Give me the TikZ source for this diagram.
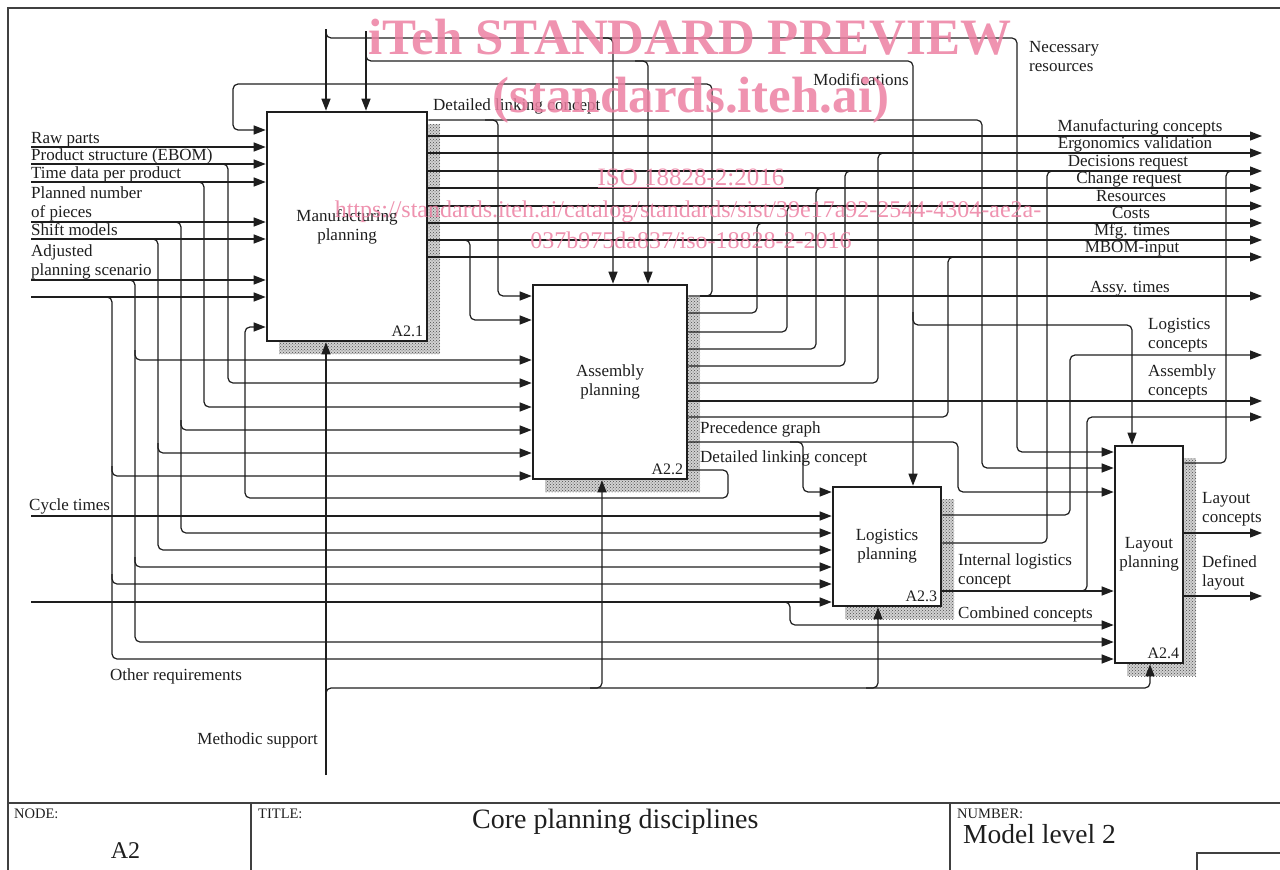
\documentclass[tikz,border=0pt]{standalone}
\usepackage{fontspec}
\setmainfont{Liberation Serif}
\usepackage{xcolor}
\usepackage{tikz}
\usetikzlibrary{arrows.meta,positioning,patterns}
\definecolor{ink}{RGB}{30,30,30}
\definecolor{wmpink}{RGB}{236,128,162}
\newcommand{\lblsize}{\fontsize{17}{19}\selectfont}

\begin{document}
\begin{tikzpicture}[
  x=1pt, y=-1pt,
  wire/.style={draw=ink, line width=1.2pt, rounded corners=5pt},
  arr/.style={wire, -{Triangle[length=12pt,width=9pt]}},
  box/.style={draw=ink, line width=2.6pt, fill=white, align=center, inner sep=2pt, font=\lblsize, text=ink},
  dropfill/.style={preaction={fill=black!18}, pattern=crosshatch dots, pattern color=black!70},
  lbl/.style={font=\lblsize, text=ink, inner sep=0pt, anchor=base west, align=left},
  idlbl/.style={font=\fontsize{16}{18}\selectfont, text=ink, inner sep=0pt, anchor=base east},
  small/.style={lbl, font=\fontsize{14.5}{16}\selectfont},
  frame/.style={draw=black!75, line width=1.2pt},
  wm/.style={text=wmpink, text opacity=0.85, inner sep=0pt, anchor=base}
]
  \useasboundingbox (0,0) rectangle (1280,870);

  % sheet frame and title block
  \draw[frame] (1280,8) -- (8,8) -- (8,870);
  \draw[frame] (8,803) -- (1280,803);
  \draw[frame] (251,803) -- (251,870);
  \draw[frame] (950,803) -- (950,870);
  \draw[frame] (1280,853) -- (1197,853) -- (1197,870);

  % activity boxes
  \fill[dropfill] (279,124) rectangle (440,354);
  \fill[dropfill] (545,297) rectangle (700,492);
  \fill[dropfill] (845,499) rectangle (954,619);
  \fill[dropfill] (1127,458) rectangle (1196,676);
  \node[box, minimum width=160pt, minimum height=229pt] (MfgP) at (347,226.5) {Manufacturing\\planning};
  \node[box, minimum width=154pt, minimum height=194pt] (AsyP) at (610,382) {Assembly\\planning};
  \node[box, minimum width=108pt, minimum height=119pt] (LogP) at (887,546.5) {Logistics\\planning};
  \node[box, minimum width=68pt, minimum height=217pt] (LayP) at (1149,554.5) {Layout\\planning};
  \node[idlbl] (nMfg) at ([xshift=-5pt,yshift=6pt]MfgP.south east) {A2.1};
  \node[idlbl] (nAsy) at ([xshift=-5pt,yshift=6pt]AsyP.south east) {A2.2};
  \node[idlbl] (nLog) at ([xshift=-5pt,yshift=6pt]LogP.south east) {A2.3};
  \node[idlbl] (nLay) at ([xshift=-5pt,yshift=6pt]LayP.south east) {A2.4};

  % free ends
  \coordinate (inRaw) at (31,147);
  \coordinate (inEbom) at (31,164);
  \coordinate (inTime) at (31,182);
  \coordinate (inPcs) at (31,222);
  \coordinate (inShift) at (31,239);
  \coordinate (inScen) at (31,280);
  \coordinate (inOther) at (31,297);
  \coordinate (inCycle) at (31,516);
  \coordinate (inComb) at (31,602);
  \coordinate (ctlRes) at (326,29);
  \coordinate (ctlMod) at (366,31);
  \coordinate (mechMs) at (326,775);
  \coordinate (outAt) at (1262,296);
  \coordinate (outLc) at (1262,355);
  \coordinate (outAc) at (1262,401);
  \coordinate (outX) at (1262,417);
  \coordinate (outLy) at (1262,533);
  \coordinate (outDl) at (1262,596);

  % inputs from the left
  \draw[arr] (inRaw) -- (inRaw -| MfgP.west);
  \draw[arr] (inEbom) -- (inEbom -| MfgP.west);
  \draw[arr] (215,164) -- (228,164) -- (228,383) -- (AsyP.west |- 0,383);
  \draw[arr] (inTime) -- (inTime -| MfgP.west);
  \draw[arr] (191,182) -- (204,182) -- (204,407) -- (AsyP.west |- 0,407);
  \draw[arr] (inPcs) -- (inPcs -| MfgP.west);
  \draw[arr] (168,222) -- (181,222) -- (181,430) -- (AsyP.west |- 0,430);
  \draw[arr] (181,420) -- (181,533) -- (LogP.west |- 0,533);
  \draw[arr] (inShift) -- (inShift -| MfgP.west);
  \draw[arr] (145,239) -- (158,239) -- (158,453) -- (AsyP.west |- 0,453);
  \draw[arr] (158,443) -- (158,550) -- (LogP.west |- 0,550);
  \draw[arr] (inScen) -- (inScen -| MfgP.west);
  \draw[arr] (122,280) -- (135,280) -- (135,360) -- (AsyP.west |- 0,360);
  \draw[arr] (135,350) -- (135,567) -- (LogP.west |- 0,567);
  \draw[arr] (135,557) -- (135,642) -- (LayP.west |- 0,642);
  \draw[arr] (inOther) -- (inOther -| MfgP.west);
  \draw[arr] (99,297) -- (112,297) -- (112,476) -- (AsyP.west |- 0,476);
  \draw[arr] (112,466) -- (112,584) -- (LogP.west |- 0,584);
  \draw[arr] (112,574) -- (112,659) -- (LayP.west |- 0,659);
  \draw[arr] (inCycle) -- (inCycle -| LogP.west);
  \draw[arr] (inComb) -- (inComb -| LogP.west);
  \draw[arr] (778,602) -- (790,602) -- (790,625) -- (LayP.west |- 0,625);

  % controls from the top
  \draw[arr] (ctlRes) -- (ctlRes |- MfgP.north);
  \draw[arr] (ctlRes) -- (326,38) -- (1017,38) -- (1017,452) -- (LayP.west |- 0,452);
  \draw[arr] (600,38) -- (613,38) -- (AsyP.north -| 613,0);
  \draw[arr] (ctlMod) -- (ctlMod |- MfgP.north);
  \draw[arr] (ctlMod) -- (366,61) -- (913,61) -- (LogP.north -| 913,0);
  \draw[arr] (635,61) -- (648,61) -- (AsyP.north -| 648,0);
  \draw[arr] (913,312) -- (913,325) -- (1132,325) -- (LayP.north -| 1132,0);

  % mechanism from below
  \draw[arr] (mechMs) -- (mechMs |- MfgP.south);
  \draw[arr] (326,700) -- (326,688) -- (1150,688) -- (LayP.south -| 1150,0);
  \draw[arr] (590,688) -- (602,688) -- (AsyP.south -| 602,0);
  \draw[arr] (866,688) -- (878,688) -- (LogP.south -| 878,0);

  % outputs of manufacturing planning
  \foreach \nm/\yy/\cx/\txt in {
      Mc/136/1140/Manufacturing concepts,
      Ev/153/1135/Ergonomics validation,
      Dr/171/1128/Decisions request,
      Cr/188/1129/Change request,
      Re/206/1131/Resources,
      Co/223/1131/Costs,
      Mt/240/1132/Mfg. times,
      Mb/257/1132/MBOM-input}{
    \coordinate (out\nm) at (1262,\yy);
    \draw[arr] (MfgP.east |- out\nm) -- (out\nm);
    \node[lbl, anchor=base] (l\nm) at (\cx,\yy-5) {\txt};
  }
  \draw[arr] (MfgP.east |- 0,120) -- (982,120) -- (982,468) -- (LayP.west |- 0,468);
  \draw[arr] (485,120) -- (498,120) -- (498,296) -- (AsyP.west |- 0,296);
  \draw[arr] (457,240) -- (470,240) -- (470,320) -- (AsyP.west |- 0,320);

  % outputs of assembly planning
  \draw[arr] (AsyP.east |- 0,296) -- (712,296) -- (712,84) -- (233,84) -- (233,130) -- (MfgP.west |- 0,130);
  \draw[arr] (700,296) -- (outAt);
  \foreach \yy/\xx/\yt in {313/757/223, 332/787/206, 349/816/188, 366/845/171, 383/878/153, 417/948/257}
    \draw[wire] (AsyP.east |- 0,\yy) -- (\xx,\yy) -- (\xx,\yt) -- (\xx+15,\yt);
  \draw[arr] (AsyP.east |- outAc) -- (outAc);
  \draw[arr] (AsyP.east |- 0,442) -- (958,442) -- (958,492) -- (LayP.west |- 0,492);
  \draw[arr] (790,442) -- (803,442) -- (803,492) -- (LogP.west |- 0,492);
  \draw[arr] (AsyP.east |- 0,470) -- (728,470) -- (728,498) -- (245,498) -- (245,327) -- (MfgP.west |- 0,327);

  % outputs of logistics planning
  \draw[arr] (LogP.east |- 0,515) -- (1070,515) -- (1070,355) -- (outLc);
  \draw[wire] (LogP.east |- 0,543) -- (1047,543) -- (1047,171) -- (1062,171);
  \draw[arr] (LogP.east |- 0,591) -- (LayP.west |- 0,591);
  \draw[arr] (1075,591) -- (1087,591) -- (1087,417) -- (outX);

  % outputs of layout planning
  \draw[wire] (LayP.east |- 0,463) -- (1226,463) -- (1226,171) -- (1241,171);
  \draw[arr] (LayP.east |- outLy) -- (outLy);
  \draw[arr] (LayP.east |- outDl) -- (outDl);

  % arrow labels (base = last line)
  \node[lbl] (lRaw) at (31,143) {Raw parts};
  \node[lbl] (lEbom) at (31,160) {Product structure (EBOM)};
  \node[lbl] (lTime) at (31,178) {Time data per product};
  \node[lbl] (lPcs) at (31,217) {Planned number\\of pieces};
  \node[lbl] (lShift) at (31,235) {Shift models};
  \node[lbl] (lScen) at (31,275) {Adjusted\\planning scenario};
  \node[lbl] (lCycle) at (29,510) {Cycle times};
  \node[lbl] (lOther) at (110,680) {Other requirements};
  \node[lbl, anchor=base east] (lMeth) at (318,744) {Methodic support};
  \node[lbl] (lLink) at (433,110) {Detailed linking concept};
  \node[lbl, anchor=base east] (lMod) at (909,85) {Modifications};
  \node[lbl] (lRes) at (1029,71) {Necessary\\resources};
  \node[lbl, anchor=base] (lAt) at (1130,292) {Assy. times};
  \node[lbl] (lLog) at (1148,348) {Logistics\\concepts};
  \node[lbl] (lAsy) at (1148,395) {Assembly\\concepts};
  \node[lbl] (lPrec) at (700,433) {Precedence graph};
  \node[lbl] (lLink2) at (700,462) {Detailed linking concept};
  \node[lbl] (lInt) at (958,584) {Internal logistics\\concept};
  \node[lbl] (lComb) at (958,618) {Combined concepts};
  \node[lbl] (lLay) at (1202,522) {Layout\\concepts};
  \node[lbl] (lDef) at (1202,586) {Defined\\layout};

  % title block texts
  \node[small] (lNode) at (14,818) {NODE:};
  \node[small] (lTitle) at (258,818) {TITLE:};
  \node[small] (lNum) at (957,818) {NUMBER:};
  \node[lbl, anchor=base, font=\fontsize{24}{24}\selectfont] (lA2) at (125.5,858) {A2};
  \node[lbl, font=\fontsize{28}{28}\selectfont] (lCore) at (472,828) {Core planning disciplines};
  \node[lbl, font=\fontsize{27.5}{28}\selectfont] (lModel) at (963,843) {Model level 2};

  % preview watermark
  \node[wm, font=\fontsize{51}{51}\selectfont\bfseries] (wmHead) at (690,54) {iTeh STANDARD PREVIEW};
  \node[wm, font=\fontsize{51}{51}\selectfont\bfseries] (wmSite) at (691,112) {(standards.iteh.ai)};
  \node[wm, font=\fontsize{25}{25}\selectfont] (wmIso) at (691,185) {\underline{ISO 18828-2:2016}};
  \node[wm, font=\fontsize{24}{24}\selectfont] (wmUrlA) at (688,217) {https://standards.iteh.ai/catalog/standards/sist/39e17a92-2544-4304-ae2a-};
  \node[wm, font=\fontsize{24}{24}\selectfont] (wmUrlB) at (691,248) {037b975da837/iso-18828-2-2016};
\end{tikzpicture}
\end{document}
